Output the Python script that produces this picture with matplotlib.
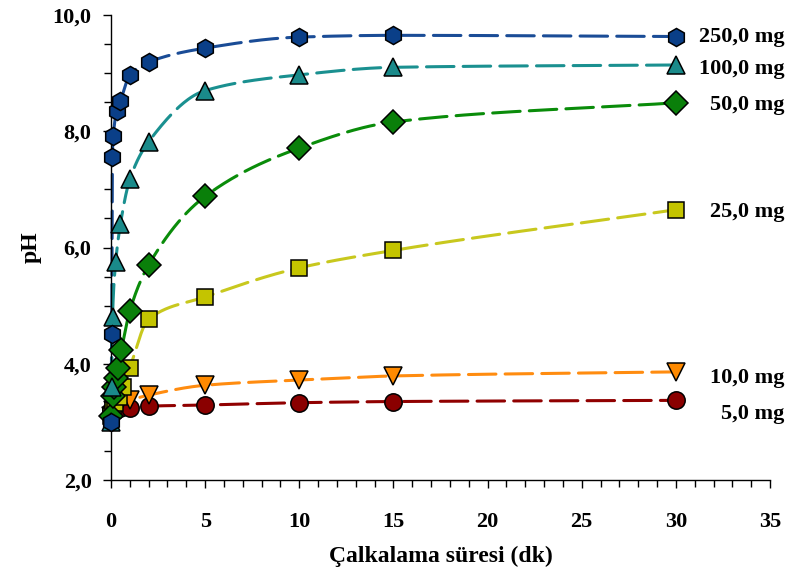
import numpy as np
import matplotlib
matplotlib.use("Agg")
import matplotlib.pyplot as plt
from matplotlib.ticker import MultipleLocator, FuncFormatter

plt.rcParams['font.family'] = ['Liberation Serif', 'DejaVu Serif']
plt.rcParams['font.weight'] = 'bold'

labels = ["250,0 mg", "100,0 mg", "50,0 mg", "25,0 mg", "10,0 mg", "5,0 mg"]

t_250 = [0, 0.04, 0.07, 0.12, 0.3, 0.5, 1, 2, 5, 10, 15, 30]
ph_250 = [3.0, 4.51, 7.56, 7.92, 8.34, 8.52, 8.97, 9.19, 9.43, 9.62, 9.65, 9.63]

t_100 = [0, 0.03, 0.08, 0.25, 0.5, 1, 2, 5, 10, 15, 30]
ph_100 = [3.0, 3.6, 4.8, 5.75, 6.4, 7.17, 7.82, 8.7, 8.97, 9.1, 9.14]

t_50 = [0, 0.08, 0.15, 0.25, 0.35, 0.55, 1, 2, 5, 10, 15, 30]
ph_50 = [3.1, 3.45, 3.6, 3.75, 3.92, 4.23, 4.91, 5.7, 6.88, 7.71, 8.16, 8.49]

t_25 = [0, 0.08, 0.2, 0.4, 0.65, 1, 2, 5, 10, 15, 30]
ph_25 = [3.1, 3.2, 3.32, 3.43, 3.6, 3.93, 4.77, 5.15, 5.65, 5.95, 6.65]

t_10 = [0, 0.08, 0.25, 0.5, 1, 2, 5, 10, 15, 30]
ph_10 = [3.1, 3.2, 3.25, 3.3, 3.37, 3.46, 3.63, 3.72, 3.79, 3.86]

t_5 = [0, 0.08, 0.25, 0.5, 1, 2, 5, 10, 15, 30]
ph_5 = [3.2, 3.22, 3.23, 3.24, 3.24, 3.27, 3.29, 3.33, 3.35, 3.37]

series = [(t_250, ph_250), (t_100, ph_100), (t_50, ph_50),
          (t_25, ph_25), (t_10, ph_10), (t_5, ph_5)]

markers = ['h', '^', 'D', 's', 'v', 'o']
msizes = [13, 12.5, 12, 11.5, 13, 12.5]
face_colors = ['#0A3F88', '#1A8A8A', '#0A7F0A', '#C4C400', '#FF8A00', '#8A0000']
line_colors = ['#1A4C96', '#1A9090', '#0A8C0A', '#C8C81E', '#FF8C10', '#900000']
label_offsets = [(0, 0), (0, -3), (0, -1.5), (0, -1.5), (0, -4.5), (0, -9.5)]


def pchip(x, y, xs):
    x = np.asarray(x, float)
    y = np.asarray(y, float)
    h = np.diff(x)
    d = np.diff(y) / h
    m = np.zeros_like(y)
    for k in range(1, len(x) - 1):
        if d[k - 1] * d[k] <= 0:
            m[k] = 0.0
        else:
            w1 = 2 * h[k] + h[k - 1]
            w2 = h[k] + 2 * h[k - 1]
            m[k] = (w1 + w2) / (w1 / d[k - 1] + w2 / d[k])
    m[0] = d[0]
    m[-1] = d[-1]
    idx = np.clip(np.searchsorted(x, xs) - 1, 0, len(x) - 2)
    hh = h[idx]
    s = (xs - x[idx]) / hh
    h00 = 2 * s**3 - 3 * s**2 + 1
    h10 = s**3 - 2 * s**2 + s
    h01 = -2 * s**3 + 3 * s**2
    h11 = s**3 - s**2
    return h00 * y[idx] + h10 * hh * m[idx] + h01 * y[idx + 1] + h11 * hh * m[idx + 1]


fig = plt.figure(figsize=(7.87, 5.75), dpi=100)
ax = fig.add_axes([111 / 787, 95 / 575, (770 - 111) / 787, (480 - 15) / 575])

for i, (t, ph) in enumerate(series):
    t = np.asarray(t, float)
    xs = np.concatenate([np.linspace(t[k], t[k + 1], 40, endpoint=False) for k in range(len(t) - 1)] + [t[-1:]])
    ys = pchip(t, ph, xs)
    ax.plot(xs, ys, color=line_colors[i], lw=2.2, linestyle=(0, (9, 3)),
            zorder=2, clip_on=False, dash_capstyle='round')

for i, (t, ph) in reversed(list(enumerate(series))):
    ax.plot(t, ph, linestyle='none', marker=markers[i], ms=msizes[i],
            mfc=face_colors[i], mec='black', mew=1.1, zorder=3 + (5 - i), clip_on=False)

for i, (t, ph) in enumerate(series):
    ax.annotate(labels[i], xy=(t[-1], ph[-1]), xytext=(78 + label_offsets[i][0], label_offsets[i][1]),
                textcoords='offset points', ha='right', va='center',
                fontsize=16, fontweight='bold', annotation_clip=False)

ax.set_xlim(0, 35)
ax.set_ylim(2, 10)
ax.spines['top'].set_visible(False)
ax.spines['right'].set_visible(False)
ax.spines['left'].set_linewidth(1.0)
ax.spines['bottom'].set_linewidth(1.0)
ax.xaxis.set_major_locator(MultipleLocator(5))
ax.xaxis.set_minor_locator(MultipleLocator(1))
ax.yaxis.set_major_locator(MultipleLocator(2))
ax.yaxis.set_minor_locator(MultipleLocator(0.5))
ax.yaxis.set_major_formatter(FuncFormatter(lambda v, p: f"{v:.1f}".replace('.', ',')))
ax.tick_params(which='both', direction='out', width=1.0)
ax.tick_params(which='major', length=6, labelsize=16)
ax.tick_params(axis='y', which='major', pad=8)
ax.tick_params(axis='x', which='major', pad=17)
ax.tick_params(which='minor', length=5)
for lab in ax.get_xticklabels() + ax.get_yticklabels():
    lab.set_fontweight('bold')

ax.set_xlabel("Çalkalama süresi (dk)", fontsize=17, fontweight='bold', labelpad=10)
ax.set_ylabel("pH", fontsize=17, fontweight='bold', labelpad=8)

fig.savefig("out.png", dpi=100)
